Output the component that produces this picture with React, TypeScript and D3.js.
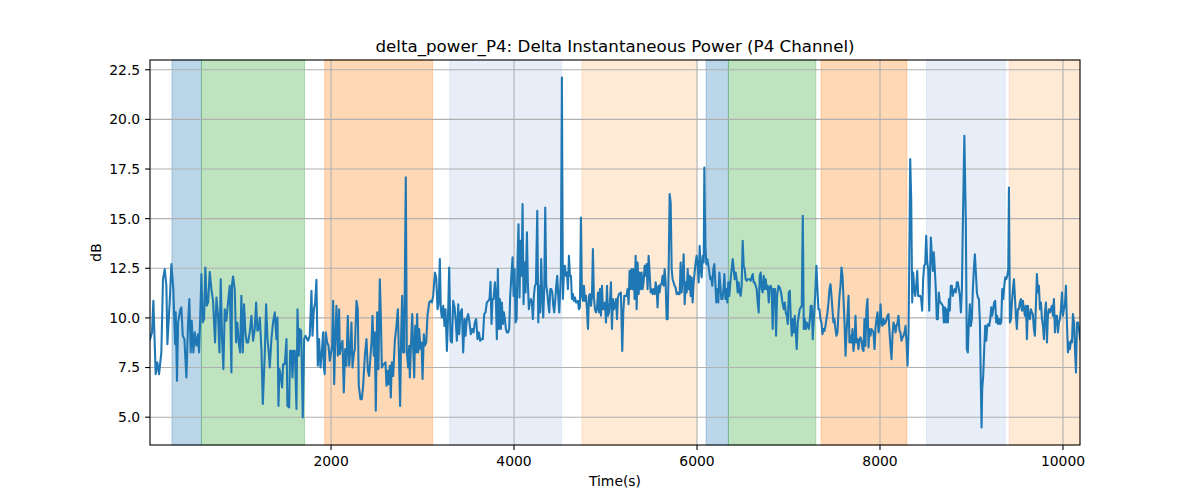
import React from 'react';
import * as d3 from 'd3';

// time (s) of each sample and its delta power (dB)
const times = [
  21, 43, 58, 83, 101, 120, 145, 163, 182, 200, 211, 236, 255, 276, 295, 302, 316, 328, 353, 364,
  379, 397, 419, 437, 451, 466, 477, 495, 510, 528, 546, 557, 568, 583, 597, 612, 626, 641, 656, 674,
  692, 710, 732, 747, 765, 780, 794, 809, 823, 838, 856, 874, 893, 911, 918, 929, 947, 962, 976, 991,
  1006, 1020, 1035, 1049, 1064, 1078, 1093, 1111, 1130, 1148, 1166, 1181, 1195, 1210, 1221, 1239, 1254, 1276, 1290, 1305,
  1319, 1330, 1348, 1366, 1385, 1403, 1414, 1425, 1436, 1450, 1465, 1476, 1494, 1513, 1523, 1542, 1552, 1567, 1578, 1589,
  1604, 1622, 1633, 1647, 1658, 1673, 1691, 1706, 1720,
  1749, 1767, 1786, 1797, 1811, 1826, 1840, 1855, 1869, 1884, 1899, 1913, 1920, 1931, 1942, 1957, 1972, 1986, 2001, 2012,
  2023, 2034, 2044, 2059, 2074, 2088, 2096, 2110, 2125, 2139, 2154, 2168, 2183, 2198, 2212, 2223, 2234, 2249, 2260, 2278,
  2292, 2303, 2322, 2336, 2351, 2369, 2387, 2402, 2416, 2431, 2442, 2453, 2467, 2478, 2489, 2504, 2518, 2533, 2544, 2555,
  2570, 2580, 2595, 2606, 2617, 2628, 2642, 2653, 2664, 2679, 2697, 2715, 2730, 2741, 2755, 2766, 2777, 2788, 2799, 2817,
  2828, 2843, 2854, 2861, 2876, 2887, 2898, 2909, 2920, 2930, 2941, 2952, 2963, 2978, 2989, 3000, 3014, 3025, 3040, 3054,
  3073, 3087, 3102, 3116, 3135, 3149, 3164, 3175, 3189, 3200, 3211, 3226, 3240, 3251, 3266, 3277, 3291, 3306, 3321, 3335,
  3350, 3364, 3375, 3390, 3401, 3415, 3430, 3444, 3459,
  3470, 3484, 3499, 3513, 3528, 3543, 3557, 3572, 3586, 3601, 3616, 3630, 3645, 3659, 3674, 3688, 3703, 3718, 3732, 3743,
  3754, 3765, 3776, 3791, 3801, 3812, 3823, 3834, 3845, 3856, 3867, 3878, 3889, 3900, 3911, 3922, 3936, 3947, 3958, 3973,
  3984, 3995, 4006, 4017, 4028, 4038, 4049, 4060, 4071, 4082, 4093, 4104, 4115, 4126, 4141, 4151, 4162, 4173, 4184, 4195,
  4206, 4217, 4228, 4239, 4254, 4265, 4275, 4286, 4297, 4308, 4319, 4330, 4341, 4352, 4363, 4374, 4385, 4396, 4407, 4418,
  4429, 4439, 4450, 4461, 4472, 4483, 4494, 4505, 4512, 4523, 4534, 4545, 4556, 4567, 4578, 4589, 4600, 4611, 4622, 4633,
  4644, 4655, 4666, 4676, 4687, 4698, 4709, 4720, 4731, 4742, 4753, 4764, 4775, 4786, 4797, 4808, 4819, 4830, 4841, 4852,
  4862, 4873, 4884, 4895, 4906, 4917, 4928, 4939, 4950, 4961, 4972, 4983, 4994, 5005, 5016, 5027, 5037, 5048, 5059, 5070,
  5081, 5092, 5103, 5114, 5125, 5136, 5147,
  5168, 5183, 5194, 5205, 5216, 5230, 5241, 5252, 5263, 5274, 5285, 5296, 5307, 5318, 5329, 5340, 5351, 5362, 5372, 5383,
  5394, 5405, 5416, 5427, 5438, 5449, 5460, 5471, 5482, 5493, 5504, 5515, 5526, 5537, 5548, 5558, 5569, 5580, 5591, 5602,
  5613, 5624, 5635, 5646, 5657, 5668, 5679, 5690, 5701, 5712, 5723, 5733, 5744, 5755, 5766, 5777, 5788, 5799, 5810, 5821,
  5832, 5843, 5854, 5865, 5876, 5887, 5898, 5908, 5919, 5930, 5941, 5952, 5963, 5974, 5985, 5996, 6007, 6018, 6029, 6040,
  6051, 6062, 6073, 6080, 6091, 6102, 6113, 6124, 6135, 6145, 6156, 6167, 6178, 6189, 6200, 6211, 6222, 6233, 6244, 6255,
  6266, 6277, 6288, 6299, 6310, 6320, 6331, 6342, 6353, 6364, 6375, 6390, 6401, 6412, 6422, 6433, 6444, 6455, 6466, 6477,
  6488, 6499, 6510, 6521, 6532, 6543, 6554, 6565, 6576, 6587, 6598, 6609, 6619, 6630, 6641, 6652, 6663, 6674, 6685, 6696,
  6707, 6718, 6729, 6740, 6751, 6762, 6773, 6784, 6794, 6805, 6816, 6827, 6838,
  6853, 6864, 6875, 6890, 6904, 6919, 6934, 6948, 6959, 6970, 6981, 6992, 7003, 7014, 7025, 7036, 7047, 7058, 7068, 7079,
  7090, 7101, 7112, 7123, 7134, 7145, 7156, 7167, 7178, 7189, 7200, 7211, 7222, 7233, 7243, 7254, 7265, 7276, 7291, 7305,
  7316, 7327, 7338, 7349, 7360, 7371, 7382, 7393, 7404, 7415, 7426, 7437, 7448, 7459, 7470, 7480, 7491, 7502, 7513, 7524,
  7535, 7546, 7557, 7568, 7579, 7590, 7601, 7612, 7623, 7634, 7645, 7656, 7666, 7677, 7688, 7699, 7710, 7721, 7732, 7743,
  7754, 7765, 7776, 7787, 7798, 7809, 7820, 7830, 7841, 7852, 7863, 7874, 7885, 7896, 7907, 7918, 7929, 7940, 7951, 7962,
  7973, 7984, 7995, 8006, 8016, 8027, 8038, 8049, 8060, 8071, 8082, 8093, 8104, 8115, 8126, 8137, 8148, 8159, 8170, 8181,
  8192, 8202, 8213, 8224, 8235, 8246, 8257, 8268, 8279, 8290, 8301, 8312, 8323, 8330, 8341, 8352, 8363, 8374, 8385, 8396,
  8407, 8417, 8428, 8439, 8450, 8461, 8472, 8483, 8494, 8505, 8516, 8527, 8538,
  8548, 8556, 8567, 8578, 8588, 8599, 8610, 8621, 8632, 8643, 8654, 8665, 8676, 8687, 8698, 8709, 8720, 8731, 8742, 8753,
  8763, 8774, 8785, 8796, 8807, 8818, 8829, 8840, 8851, 8862, 8873, 8884, 8895, 8906, 8922, 8938, 8949, 8960, 8971, 8982,
  8993, 9004, 9015, 9026, 9037, 9048, 9059, 9070, 9081, 9092, 9103, 9110, 9117, 9128, 9139, 9150, 9161, 9172, 9183, 9194,
  9205, 9216, 9227, 9237, 9248, 9259, 9270, 9281, 9292, 9303, 9314, 9325, 9336, 9347, 9358, 9369, 9380, 9391, 9402, 9409,
  9420, 9431, 9442, 9453, 9464, 9474, 9485, 9496, 9507, 9518, 9529, 9540, 9551, 9562, 9573, 9584, 9595, 9606, 9617, 9628,
  9639, 9650, 9660, 9671, 9682, 9693, 9704, 9715, 9726, 9737, 9748, 9759, 9770, 9781, 9792, 9803, 9814, 9825, 9835, 9846,
  9857, 9868, 9879, 9890, 9901, 9912, 9923, 9934, 9945, 9956, 9967, 9978, 9989, 10000, 10010, 10021, 10032, 10043, 10054, 10065,
  10076, 10087, 10098, 10109, 10120, 10131, 10142, 10153, 10164, 10175, 10186,
];

const power = [
  8.93, 9.27, 10.86, 7.17, 7.76, 7.17, 8.26, 11.95, 12.46, 11.62, 8.68, 10.78, 12.71, 11.45, 8.68, 10.28, 6.83, 9.77, 10.44, 10.53,
  9.10, 8.93, 7.00, 9.77, 10.95, 8.26, 9.86, 8.26, 9.27, 8.60, 9.18, 8.26, 9.77, 12.21, 9.77, 9.94, 12.54, 10.61, 10.78, 12.32,
  11.45, 10.86, 8.76, 11.03, 10.11, 8.26, 11.95, 8.93, 7.42, 10.44, 9.86, 10.78, 11.62, 7.25, 11.70, 12.09, 11.45, 8.76, 9.77, 8.76,
  8.26, 11.11, 8.26, 10.69, 9.27, 8.76, 8.76, 9.27, 10.11, 8.85, 9.44, 10.78, 9.35, 9.44, 10.02, 8.43, 5.66, 8.26, 10.69, 8.93,
  8.26, 7.50, 8.93, 9.77, 10.28, 8.93, 10.02, 5.57, 7.42, 7.08, 6.50, 7.67, 7.67, 8.93, 5.57, 5.49, 8.34, 8.34, 7.00, 8.34,
  8.34, 5.41, 10.44, 8.09, 9.44, 9.35, 4.99, 8.93, 9.10,
  8.85, 9.10, 11.37, 9.10, 10.36, 10.78, 11.92, 7.59, 8.93, 7.50, 8.26, 9.27, 7.59, 7.17, 9.27, 8.76, 8.60, 7.84, 8.26, 8.60,
  10.86, 6.66, 8.60, 10.61, 8.09, 10.44, 8.18, 8.60, 8.85, 6.24, 8.43, 7.59, 10.11, 7.59, 8.43, 9.77, 7.50, 8.18, 8.43, 10.86,
  10.44, 6.58, 5.91, 5.91, 6.58, 8.09, 8.93, 7.34, 7.08, 8.09, 8.76, 10.11, 8.09, 9.27, 5.32, 10.28, 7.42, 11.95, 10.11, 7.50,
  7.67, 7.67, 7.76, 6.58, 7.34, 6.66, 7.59, 5.99, 7.76, 7.08, 8.85, 9.60, 10.44, 8.26, 5.57, 9.10, 11.11, 8.26, 8.26, 17.08,
  8.26, 7.50, 8.60, 7.00, 8.93, 10.19, 8.43, 7.00, 9.60, 8.26, 10.19, 8.26, 9.44, 8.43, 8.76, 6.92, 9.18, 8.60, 8.76, 10.11,
  10.78, 10.86, 10.78, 11.11, 12.29, 12.04, 10.44, 10.69, 12.96, 10.44, 10.02, 10.61, 9.60, 10.44, 8.34, 9.77, 12.54, 8.85, 8.76, 10.86,
  10.53, 9.77, 8.85, 10.69, 9.18, 10.28, 10.44, 8.26, 9.94,
  9.10, 9.94, 10.19, 9.77, 9.18, 9.44, 9.27, 9.77, 9.94, 8.93, 9.27, 8.85, 8.93, 8.93, 10.19, 10.28, 10.78, 10.86, 10.95, 11.82,
  9.69, 10.95, 10.95, 11.79, 11.11, 8.93, 12.46, 9.44, 10.95, 9.44, 10.78, 9.69, 10.28, 9.94, 9.44, 9.27, 9.27, 9.44, 11.11, 12.29,
  13.05, 11.11, 12.46, 9.77, 9.94, 12.79, 14.72, 11.03, 13.89, 12.12, 15.73, 10.69, 12.79, 11.28, 14.31, 11.79, 10.44, 10.78, 10.95, 10.78,
  9.94, 11.11, 11.62, 11.70, 15.40, 9.77, 11.62, 10.28, 12.96, 11.11, 10.02, 11.45, 15.56, 11.62, 11.28, 10.69, 10.28, 11.45, 11.45, 11.28,
  10.61, 10.28, 10.86, 11.62, 12.12, 11.11, 10.28, 11.45, 12.12, 22.11, 10.95, 12.21, 12.63, 12.12, 12.29, 11.45, 13.13, 12.12, 12.12, 10.95,
  11.20, 10.86, 11.03, 10.78, 10.78, 10.86, 10.44, 10.53, 15.06, 11.11, 10.86, 11.62, 10.86, 11.11, 10.44, 9.44, 11.11, 11.20, 10.61, 11.11,
  13.47, 11.03, 10.44, 10.28, 10.44, 11.28, 10.28, 11.45, 10.11, 11.62, 10.44, 10.44, 10.78, 9.77, 11.62, 10.11, 10.28, 10.78, 11.79, 9.44,
  10.95, 10.44, 10.61, 10.95, 9.94, 11.03, 11.20,
  11.28, 8.34, 10.28, 11.11, 11.11, 11.11, 11.45, 10.69, 12.37, 11.45, 12.46, 11.45, 12.46, 10.95, 13.13, 10.44, 12.79, 11.20, 12.29, 11.45,
  12.29, 11.45, 11.79, 12.63, 12.12, 12.71, 11.45, 13.13, 12.29, 11.28, 11.45, 11.20, 11.45, 11.20, 11.79, 11.45, 10.53, 11.62, 11.28, 11.70,
  11.70, 12.12, 11.62, 12.46, 11.79, 9.94, 9.94, 12.46, 16.24, 15.82, 12.46, 11.95, 11.79, 11.62, 11.53, 11.20, 11.28, 11.20, 11.20, 12.79,
  11.28, 12.12, 13.21, 10.69, 11.79, 11.28, 12.46, 11.45, 12.12, 11.11, 12.04, 10.78, 11.79, 12.29, 12.79, 13.13, 12.63, 11.79, 13.63, 12.46,
  12.04, 13.13, 12.79, 17.58, 13.63, 12.71, 12.96, 12.63, 12.29, 11.95, 12.04, 11.62, 12.46, 12.71, 11.79, 10.78, 11.45, 10.78, 12.29, 11.62,
  10.95, 10.95, 11.37, 12.21, 10.95, 11.45, 10.78, 11.79, 11.11, 11.79, 12.29, 12.96, 12.46, 11.95, 12.29, 11.95, 11.28, 11.79, 11.28, 11.11,
  11.62, 13.89, 12.63, 12.46, 11.95, 11.87, 11.95, 11.95, 11.95, 11.87, 12.04, 12.21, 11.79, 11.79, 11.62, 11.45, 10.78, 10.28, 12.12, 12.29,
  11.45, 11.28, 12.12, 11.45, 11.95, 11.45, 11.62, 10.78, 11.53, 11.62, 11.45, 9.44, 11.45,
  11.45, 9.10, 11.11, 11.62, 11.53, 11.28, 10.78, 10.44, 10.78, 10.28, 10.11, 9.69, 11.28, 11.37, 9.94, 9.10, 9.94, 9.27, 10.11, 9.27,
  8.43, 9.77, 10.11, 10.44, 10.53, 10.61, 15.15, 9.44, 9.94, 9.44, 9.77, 9.60, 9.44, 9.94, 10.61, 10.61, 8.93, 9.94, 11.11, 12.63,
  11.45, 10.44, 10.44, 9.94, 9.77, 9.18, 9.44, 9.35, 9.60, 9.94, 10.28, 10.78, 11.45, 11.70, 11.11, 10.44, 9.77, 9.94, 9.44, 9.10,
  9.27, 10.28, 11.11, 11.62, 12.54, 12.12, 10.95, 9.77, 8.09, 9.27, 10.11, 11.11, 8.76, 9.10, 8.76, 9.44, 8.34, 8.76, 10.11, 8.76,
  8.93, 8.43, 8.93, 9.02, 8.85, 8.43, 8.34, 9.94, 8.60, 10.44, 10.95, 8.51, 9.44, 9.10, 9.44, 9.35, 9.27, 8.43, 9.52, 9.94,
  10.28, 9.27, 9.60, 10.69, 9.77, 9.60, 9.94, 9.69, 9.77, 9.94, 10.11, 10.19, 9.27, 8.51, 7.92, 9.18, 9.77, 9.60, 9.27, 9.60,
  9.77, 10.11, 9.35, 9.27, 8.85, 9.02, 9.10, 9.27, 9.60, 8.76, 7.59, 9.27, 14.47, 18.00, 15.98, 10.78, 12.29, 11.45, 11.11, 11.62,
  12.37, 11.11, 11.11, 11.11, 10.95, 10.36, 11.95, 12.63, 12.71, 14.14, 12.79, 12.46, 10.36,
  12.46, 14.05, 13.13, 12.37, 13.30, 12.46, 11.45, 9.94, 9.94, 11.28, 10.78, 10.78, 10.69, 10.61, 9.77, 10.53, 9.77, 10.44, 9.77, 10.95,
  10.36, 11.62, 11.62, 11.11, 11.37, 11.45, 11.28, 11.79, 11.79, 11.45, 11.11, 10.28, 11.45, 14.81, 19.18, 14.81, 8.43, 8.26, 9.77, 10.69,
  9.60, 9.94, 11.45, 12.46, 13.21, 12.29, 11.28, 11.03, 10.95, 9.77, 6.41, 4.48, 6.41, 7.08, 8.43, 9.60, 8.85, 9.60, 9.69, 9.60,
  9.94, 10.53, 10.11, 10.44, 10.78, 10.86, 9.77, 10.11, 9.69, 9.94, 9.69, 9.77, 11.45, 10.95, 11.62, 12.04, 11.95, 12.12, 12.46, 16.57,
  9.77, 9.94, 10.78, 11.45, 11.95, 11.11, 10.11, 9.44, 10.44, 10.44, 10.78, 10.95, 10.36, 10.86, 10.44, 10.11, 10.61, 8.93, 10.61, 10.02,
  9.94, 10.44, 10.28, 10.19, 9.44, 9.10, 10.61, 12.21, 11.28, 11.62, 10.44, 10.78, 9.94, 9.60, 8.93, 10.28, 10.78, 8.76, 10.11, 10.44,
  10.28, 10.44, 10.61, 10.11, 10.95, 9.27, 10.11, 10.11, 9.27, 9.77, 9.94, 10.44, 11.28, 10.11, 10.44, 10.61, 11.62, 9.77, 8.26, 8.76,
  8.43, 8.85, 8.76, 10.19, 9.77, 8.43, 7.25, 9.77, 9.77, 9.44, 8.93,
];

// shaded phases: start, end (s) and colour
const spanStart = [261, 583, 1931, 3298, 4742, 6099, 6343, 7356, 8508, 9413];
const spanEnd = [583, 1710, 3110, 4520, 5993, 6343, 7298, 8294, 9369, 10190];
const spanColor = ['#1f77b4', '#2ca02c', '#ff7f0e', '#aec7e8', '#ffbb78', '#1f77b4', '#2ca02c', '#ff7f0e', '#aec7e8', '#ffbb78'];

const xTicks = [2000, 4000, 6000, 8000, 10000];
const yTicks = [5, 7.5, 10, 12.5, 15, 17.5, 20, 22.5];

const W = 1200, H = 500;
const margin = { top: 60, right: 120, bottom: 55, left: 150 };
const font = '"DejaVu Sans", sans-serif';

export default function App() {
  const data = times.map((t, i) => ({ t, v: power[i] }));
  const [yMin, yMax] = d3.extent(power) as [number, number];
  const pad = (yMax - yMin) * 0.05;

  const x = d3.scaleLinear()
    .domain(d3.extent(times) as [number, number])
    .range([margin.left, W - margin.right]);
  const y = d3.scaleLinear()
    .domain([yMin - pad, yMax + pad])
    .range([H - margin.bottom, margin.top]);

  const line = d3.line<{ t: number; v: number }>()
    .x(d => x(d.t))
    .y(d => y(d.v));

  const [x0, x1] = x.range();
  const [y0, y1] = y.range();
  const clamp = (v: number) => Math.max(x0, Math.min(x1, v));

  return (
    <svg width={W} height={H} style={{ display: 'block', margin: -8 }} fontFamily={font}>
      <defs>
        <clipPath id="plot">
          <rect x={x0} y={y1} width={x1 - x0} height={y0 - y1} />
        </clipPath>
      </defs>
      <rect width={W} height={H} fill="white" />

      {spanStart.map((s, i) => (
        <rect key={i} x={clamp(x(s))} y={y1} width={clamp(x(spanEnd[i])) - clamp(x(s))} height={y0 - y1}
          fill={spanColor[i]} fillOpacity={0.3} stroke={spanColor[i]} strokeOpacity={0.3} strokeWidth={1} />
      ))}

      {/* grid */}
      {xTicks.map(t => (
        <line key={'gx' + t} x1={x(t)} x2={x(t)} y1={y0} y2={y1} stroke="#b0b0b0" strokeWidth={1.1} />
      ))}
      {yTicks.map(t => (
        <line key={'gy' + t} x1={x0} x2={x1} y1={y(t)} y2={y(t)} stroke="#b0b0b0" strokeWidth={1.1} />
      ))}

      <path d={line(data) ?? ''} fill="none" stroke="#1f77b4" strokeWidth={2.08} strokeLinejoin="round"
        strokeLinecap="square" clipPath="url(#plot)" />

      <rect x={x0} y={y1} width={x1 - x0} height={y0 - y1} fill="none" stroke="black" strokeWidth={1.1} />

      {xTicks.map(t => (
        <g key={'tx' + t}>
          <line x1={x(t)} x2={x(t)} y1={y0} y2={y0 + 4.9} stroke="black" strokeWidth={1.1} />
          <text x={x(t)} y={y0 + 21} textAnchor="middle" fontSize={13.9}>{t}</text>
        </g>
      ))}
      {yTicks.map(t => (
        <g key={'ty' + t}>
          <line x1={x0} x2={x0 - 4.9} y1={y(t)} y2={y(t)} stroke="black" strokeWidth={1.1} />
          <text x={x0 - 9.8} y={y(t)} dy="0.35em" textAnchor="end" fontSize={13.9}>{t.toFixed(1)}</text>
        </g>
      ))}

      <text x={(x0 + x1) / 2} y={486} textAnchor="middle" fontSize={13.9}>Time(s)</text>
      <text transform={`translate(101,${(y0 + y1) / 2}) rotate(-90)`} textAnchor="middle" fontSize={13.9}>dB</text>
      <text x={(x0 + x1) / 2} y={52} textAnchor="middle" fontSize={16.7}>
        delta_power_P4: Delta Instantaneous Power (P4 Channel)
      </text>
    </svg>
  );
}
